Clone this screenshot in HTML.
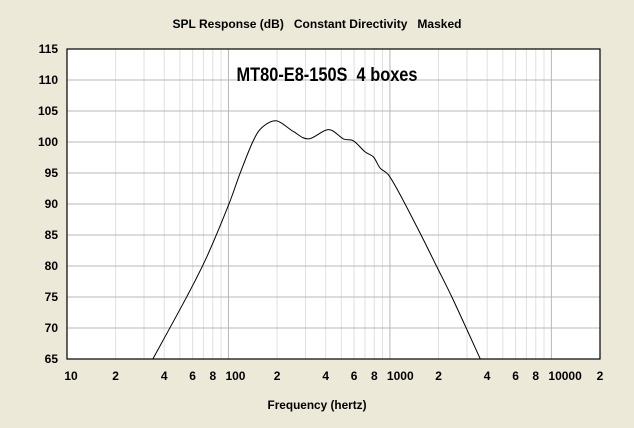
<!DOCTYPE html>
<html><head><meta charset="utf-8"><style>
html,body{margin:0;padding:0;background:#ECE9D8;}
svg{display:block;font-family:"Liberation Sans",sans-serif;}
text{white-space:pre;}
</style></head><body>
<svg id="chart" width="634" height="428" xmlns="http://www.w3.org/2000/svg" xml:space="preserve">
<rect x="0" y="0" width="634" height="428" fill="#ECE9D8"/>
<text x="317" y="28" text-anchor="middle" font-size="12" font-weight="bold" fill="#000" textLength="289" lengthAdjust="spacingAndGlyphs">SPL Response (dB)   Constant Directivity   Masked</text>
<rect x="67" y="49" width="533" height="310" fill="#fff"/>
<g id="grid"></g>
<g id="ylabels"></g>
<g id="xlabels"></g>
<path id="curve" fill="none" stroke="#000" stroke-width="1"/>
<rect x="67" y="49" width="533" height="310" fill="none" stroke="#000" stroke-width="1.2"/>
<text x="327" y="81" text-anchor="middle" font-size="19" font-weight="bold" fill="#000" textLength="181" lengthAdjust="spacingAndGlyphs">MT80-E8-150S  4 boxes</text>
<text x="317" y="409" text-anchor="middle" font-size="12" font-weight="bold" fill="#000" textLength="99" lengthAdjust="spacingAndGlyphs">Frequency (hertz)</text>
</svg>
<script>
const freqs = [34, 55.2, 73.5, 100, 118, 143, 164, 199, 252, 313, 416, 515, 594, 702, 790, 869, 979, 1157, 1538, 1950, 2470, 3630];
const spl = [65, 75.05, 81.5, 89.8, 94.95, 100.3, 102.5, 103.4, 101.7, 100.5, 102.0, 100.5, 100.2, 98.4, 97.6, 95.8, 94.7, 91.5, 85.3, 79.9, 74.5, 65];
const yTicks = [65, 70, 75, 80, 85, 90, 95, 100, 105, 110, 115];
const xTickVals = [10, 20, 40, 60, 80, 100, 200, 400, 600, 800, 1000, 2000, 4000, 6000, 8000, 10000, 20000];
const xTickLabels = ["10", "2", "4", "6", "8", "100", "2", "4", "6", "8", "1000", "2", "4", "6", "8", "10000", "2"];

const L = 67, R = 600, T = 49, B = 359;
const lx0 = 1, lx1 = Math.log10(20000);
function xs(f) { return L + (Math.log10(f) - lx0) / (lx1 - lx0) * (R - L); }
function ys(v) { return B - (v - 65) / (115 - 65) * (B - T); }
const NS = "http://www.w3.org/2000/svg";
const grid = document.getElementById('grid');
for (let d = 10; d <= 10000; d *= 10) {
  for (let m = 1; m <= 9; m++) {
    const f = d * m;
    if (f > 20000 || f === 10) continue;
    const x = xs(f);
    const ln = document.createElementNS(NS, 'line');
    
    
    ln.setAttribute('x1', x); ln.setAttribute('x2', x);
    ln.setAttribute('y1', T); ln.setAttribute('y2', B);
    ln.setAttribute('stroke', m === 1 ? '#b8b8b8' : '#e0e0e0');
    ln.setAttribute('stroke-width', '1');
    grid.appendChild(ln);
  }
}
const yl = document.getElementById('ylabels');
yTicks.forEach(v => {
  const y = ys(v);
  if (v > 65 && v < 115) {
    const ln = document.createElementNS(NS, 'line');
    
    
    ln.setAttribute('x1', L); ln.setAttribute('x2', R);
    ln.setAttribute('y1', y); ln.setAttribute('y2', y);
    ln.setAttribute('stroke', '#b8b8b8');
    grid.appendChild(ln);
  }
  const t = document.createElementNS(NS, 'text');
  
  
  t.setAttribute('x', 58); t.setAttribute('y', y + 4);
  t.setAttribute('text-anchor', 'end');
  t.setAttribute('font-size', '12'); t.setAttribute('font-weight', 'bold');
  t.textContent = v;
  yl.appendChild(t);
});
const xl = document.getElementById('xlabels');
xTickVals.forEach((f, i) => {
  const t = document.createElementNS(NS, 'text');
  
  
  const lab = xTickLabels[i];
  const x = xs(f);
  t.setAttribute('x', lab.length > 1 ? x - 3 : x);
  t.setAttribute('y', 380);
  t.setAttribute('text-anchor', lab.length > 1 && f !== 10 ? 'start' : 'middle');
  if (f === 10) t.setAttribute('x', x + 4);
  t.setAttribute('font-size', '12'); t.setAttribute('font-weight', 'bold');
  t.textContent = lab;
  xl.appendChild(t);
});
const pts = freqs.map((f, i) => [xs(f), ys(spl[i])]);
let d = 'M' + pts[0][0] + ',' + pts[0][1];
for (let i = 0; i < pts.length - 1; i++) {
  const p0 = pts[Math.max(0, i - 1)], p1 = pts[i], p2 = pts[i + 1], p3 = pts[Math.min(pts.length - 1, i + 2)];
  const c1 = [p1[0] + (p2[0] - p0[0]) / 6, p1[1] + (p2[1] - p0[1]) / 6];
  const c2 = [p2[0] - (p3[0] - p1[0]) / 6, p2[1] - (p3[1] - p1[1]) / 6];
  d += ' C' + c1 + ' ' + c2 + ' ' + p2;
}
document.getElementById('curve').setAttribute('d', d);
</script>
</body></html>
